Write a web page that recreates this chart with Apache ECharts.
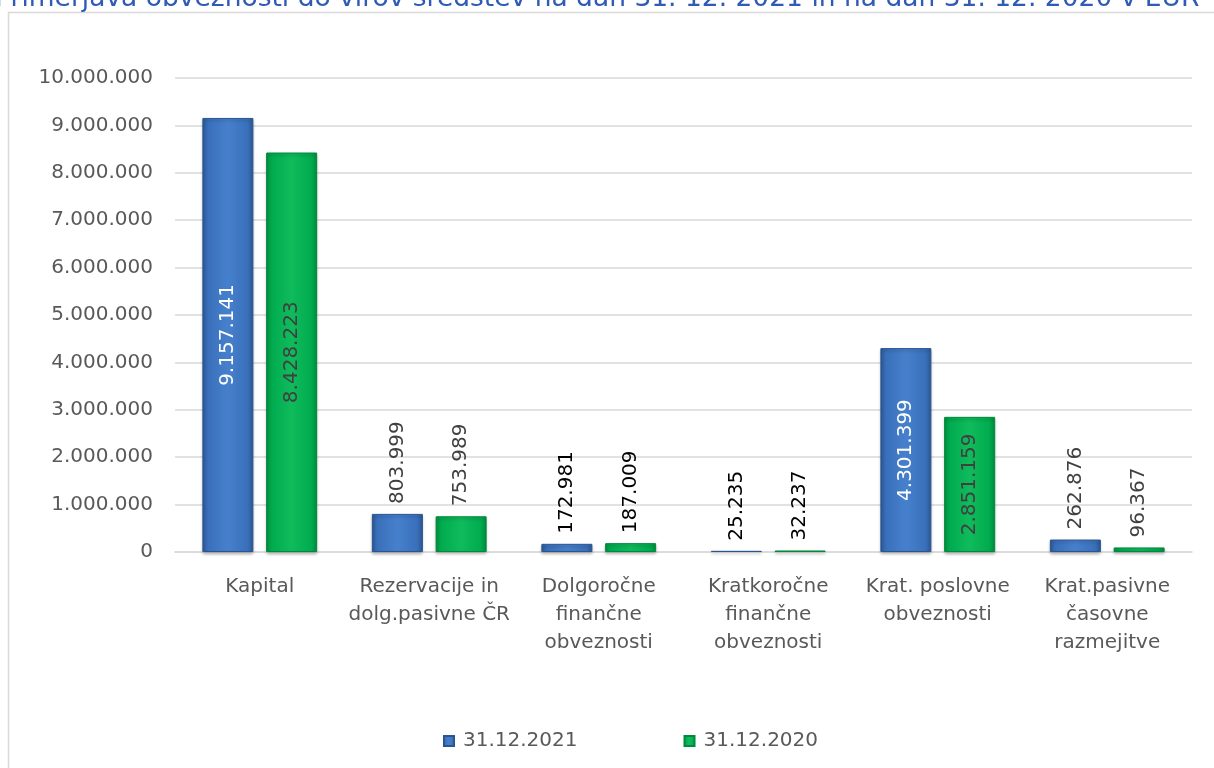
<!DOCTYPE html>
<html>
<head>
<meta charset="utf-8">
<script src="https://cdn.jsdelivr.net/npm/echarts@6/dist/echarts.min.js"></script>
<style>
  html, body { margin: 0; padding: 0; background: #fff; }
  #chart { width: 1214px; height: 768px; }
</style>
</head>
<body>
<div id="chart"></div>
<script>
const categories = [
  'Kapital',
  'Rezervacije in\ndolg.pasivne ČR',
  'Dolgoročne\nfinančne\nobveznosti',
  'Kratkoročne\nfinančne\nobveznosti',
  'Krat. poslovne\nobveznosti',
  'Krat.pasivne\nčasovne\nrazmejitve'
]
const values2021 = [9157141, 803999, 172981, 25235, 4301399, 262876]
const values2020 = [8428223, 753989, 187009, 32237, 2851159, 96367]
const seriesNames = ['31.12.2021', '31.12.2020']

const fmt = (v) => String(v).replace(/\B(?=(\d{3})+(?!\d))/g, '.')

const chart = echarts.init(document.getElementById('chart'))

// value labels: big bars get the label inside, small ones above the bar
const buildData = (values, insideColor, outsideColors) =>
  values.map((v, i) => ({
    value: v,
    label: v > 2000000
      ? { position: 'inside', color: insideColor, align: 'center', verticalAlign: 'middle' }
      : { position: 'top', distance: 10, color: outsideColors[i], align: 'left', verticalAlign: 'middle' }
  }))

const barGradient = (dark, mid, light) =>
  new echarts.graphic.LinearGradient(0, 0, 1, 0, [
    { offset: 0, color: dark },
    { offset: 0.12, color: mid },
    { offset: 0.5, color: light },
    { offset: 0.88, color: mid },
    { offset: 1, color: dark }
  ])

const baseFont = 'DejaVu Sans'

chart.setOption({
  animation: false,
  textStyle: { fontFamily: baseFont },
  title: {
    text: 'Primerjava obveznosti do virov sredstev na dan 31. 12. 2021 in na dan 31. 12. 2020 v EUR',
    left: -10,
    top: -19,
    textStyle: { fontFamily: baseFont, fontSize: 26.5, fontWeight: 'normal', color: '#2F5BB7' }
  },
  graphic: [
    {
      type: 'rect',
      shape: { x: 8.5, y: 12.5, width: 1220, height: 780 },
      style: { fill: 'none', stroke: '#d9d9d9', lineWidth: 1.5 },
      silent: true
    }
  ],
  legend: {
    bottom: 12,
    left: 438,
    itemWidth: 10,
    itemHeight: 10,
    itemGap: 106,
    icon: 'rect',
    textStyle: { fontSize: 20, color: '#595959', fontFamily: baseFont, padding: [0, 0, 0, 4] },
    data: seriesNames
  },
  grid: {
    left: 175,
    right: 22,
    top: 78,
    bottom: 216
  },
  xAxis: {
    type: 'category',
    data: categories,
    axisTick: { show: false },
    axisLine: { lineStyle: { color: '#d9d9d9', width: 1.5 } },
    axisLabel: {
      interval: 0,
      margin: 21,
      fontSize: 20,
      lineHeight: 28,
      color: '#595959',
      fontFamily: baseFont
    }
  },
  yAxis: {
    type: 'value',
    min: 0,
    max: 10000000,
    interval: 1000000,
    axisLine: { show: false },
    axisTick: { show: false },
    axisLabel: {
      margin: 22,
      fontSize: 20,
      color: '#595959',
      fontFamily: baseFont,
      formatter: (v) => fmt(v)
    },
    splitLine: { lineStyle: { color: '#d9d9d9', width: 1.5 } }
  },
  series: [
    {
      name: seriesNames[0],
      type: 'bar',
      barWidth: 51,
      barGap: '25%',
      itemStyle: {
        color: barGradient('#2c5a98', '#3a70bb', '#4680cc'),
        borderColor: '#2a5590',
        borderWidth: 1,
        shadowColor: 'rgba(0,0,0,0.25)',
        shadowBlur: 3,
        shadowOffsetY: 2
      },
      label: {
        show: true,
        rotate: 90,
        fontSize: 20,
        fontFamily: baseFont,
        formatter: (p) => fmt(p.value)
      },
      data: buildData(values2021, '#ffffff', ['', '#404040', '#000000', '#000000', '', '#404040'])
    },
    {
      name: seriesNames[1],
      type: 'bar',
      barWidth: 51,
      itemStyle: {
        color: barGradient('#00913f', '#00ac4f', '#10bb5c'),
        borderColor: '#008a3c',
        borderWidth: 1,
        shadowColor: 'rgba(0,0,0,0.25)',
        shadowBlur: 3,
        shadowOffsetY: 2
      },
      label: {
        show: true,
        rotate: 90,
        fontSize: 20,
        fontFamily: baseFont,
        formatter: (p) => fmt(p.value)
      },
      data: buildData(values2020, '#404040', ['', '#404040', '#000000', '#000000', '', '#404040'])
    }
  ]
})
</script>
</body>
</html>
